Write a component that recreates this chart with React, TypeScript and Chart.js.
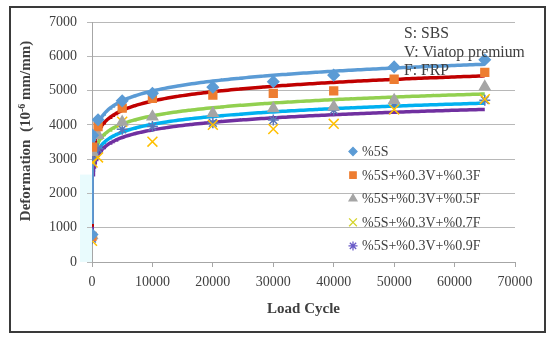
import { useEffect, useRef } from 'react';
import { Chart, registerables } from 'chart.js';
import { drawPoint } from 'chart.js/helpers';

Chart.register(...registerables);

// ---- data ----
const loadCycles = [1, 100, 1000, 5000, 10000, 20000, 30000, 40000, 50000, 65000];
const s5S = [800, 3700, 4150, 4700, 4920, 5100, 5260, 5450, 5690, 5900];
const s03F = [750, 3350, 3950, 4490, 4770, 4870, 4920, 4990, 5330, 5530];
const s05F = [780, 3200, 3700, 4080, 4240, 4335, 4480, 4530, 4720, 5110];
const s07F = [620, 2900, 3050, 4090, 3510, 4000, 3880, 4030, 4450, 4750];
const s09F = [680, 3050, 3300, 3870, 3950, 4060, 4140, 4430, 4630, 4720];
const seriesLabels = [
  '%5S',
  '%5S+%0.3V+%0.3F',
  '%5S+%0.3V+%0.5F',
  '%5S+%0.3V+%0.7F',
  '%5S+%0.3V+%0.9F',
];
const xTickMin = 0;
const xTickMax = 70000;
const xTickStep = 10000;
const yTickMin = 0;
const yTickMax = 7000;
const yTickStep = 1000;
const noteLines = ['S: SBS', 'V: Viatop premium', 'F: FRP'];
const xTitle = 'Load Cycle';
const yTitleMain = 'Deformation  (10';
const yTitleSup = '-6';
const yTitleEnd = ' mm/mm)';

// ---- styles ----
const FONT = "'Liberation Serif', 'Times New Roman', serif";
const TEXT = '#3f3f3f';
const seriesValues = [s5S, s03F, s05F, s07F, s09F];
const markerStyles = ['rectRot', 'rect', 'triangle', 'crossRot', 'star'];
const markerColors = ['#5b9bd5', '#ed7d31', '#a5a5a5', '#ffc000', '#5b77b8'];
const markerRadius = [5.5, 5.5, 6, 7, 5.5];
const legendColors = ['#5b9bd5', '#ed7d31', '#a5a5a5', '#d4d42a', '#6a5cc8'];
const legendRadius = [4, 4.5, 4.5, 5.5, 4.5];
const trendColors = ['#5b9bd5', '#c00000', '#92d050', '#7030a0', '#00b0f0'];

function logFit(xs: number[], ys: number[]) {
  const lx = xs.map((v) => Math.log(v));
  const n = xs.length;
  const mx = lx.reduce((a, b) => a + b, 0) / n;
  const my = ys.reduce((a, b) => a + b, 0) / n;
  let sxy = 0;
  let sxx = 0;
  for (let i = 0; i < n; i++) {
    sxy += (lx[i] - mx) * (ys[i] - my);
    sxx += (lx[i] - mx) * (lx[i] - mx);
  }
  const a = sxy / sxx;
  return { a, b: my - a * mx };
}

function trendSamples(xs: number[]) {
  const lo = Math.min(...xs);
  const hi = Math.max(...xs);
  const set = new Set<number>();
  const n = 80;
  for (let k = 0; k <= n; k++) set.add(lo * Math.pow(hi / lo, k / n));
  for (let v = 500; v < hi; v += 500) set.add(v);
  set.add(hi);
  return Array.from(set).sort((p, q) => p - q);
}

const pageDecor = {
  id: 'pageDecor',
  beforeDraw(chart: any) {
    const { ctx, chartArea, scales } = chart;
    ctx.save();
    ctx.fillStyle = '#ffffff';
    ctx.fillRect(0, 0, chart.width, chart.height);
    // faint shaded strip left of the y axis
    const yTop = scales.y.getPixelForValue(2550);
    ctx.fillStyle = '#e9fbfd';
    ctx.fillRect(chartArea.left - 12, yTop, 12, chartArea.bottom - yTop);
    // outer frame
    ctx.strokeStyle = '#3a3a3a';
    ctx.lineWidth = 2;
    ctx.strokeRect(10, 7, 535, 325);
    ctx.restore();
  },
  afterDraw(chart: any) {
    const { ctx, chartArea } = chart;
    ctx.save();
    // y axis title
    ctx.fillStyle = TEXT;
    ctx.translate(26, (chartArea.top + chartArea.bottom) / 2 - 11);
    ctx.rotate(-Math.PI / 2);
    ctx.textBaseline = 'middle';
    ctx.font = `bold 15px ${FONT}`;
    const w1 = ctx.measureText(yTitleMain).width;
    const w3 = ctx.measureText(yTitleEnd).width;
    ctx.font = `bold 10px ${FONT}`;
    const w2 = ctx.measureText(yTitleSup).width;
    let x = -(w1 + w2 + w3) / 2;
    ctx.textAlign = 'left';
    ctx.font = `bold 15px ${FONT}`;
    ctx.fillText(yTitleMain, x, 0);
    x += w1;
    ctx.font = `bold 10px ${FONT}`;
    ctx.fillText(yTitleSup, x, -4);
    x += w2;
    ctx.font = `bold 15px ${FONT}`;
    ctx.fillText(yTitleEnd, x, 0);
    ctx.restore();

    // notes
    ctx.save();
    ctx.fillStyle = TEXT;
    ctx.font = `15.7px ${FONT}`;
    ctx.textAlign = 'left';
    ctx.textBaseline = 'alphabetic';
    noteLines.forEach((t, i) => ctx.fillText(t, 404, 38 + i * 18.5));
    ctx.restore();

    // legend
    ctx.save();
    ctx.font = `14px ${FONT}`;
    ctx.textAlign = 'left';
    ctx.textBaseline = 'alphabetic';
    seriesLabels.forEach((label, i) => {
      const base = 156 + i * 23.6;
      ctx.fillStyle = legendColors[i];
      ctx.strokeStyle = legendColors[i];
      ctx.lineWidth = 1.3;
      drawPoint(ctx, { pointStyle: markerStyles[i], radius: legendRadius[i], rotation: 0, borderWidth: 1.3 } as any, 353, base - 4.5);
      ctx.fillStyle = TEXT;
      ctx.fillText(label, 362, base);
    });
    ctx.restore();
  },
};

export default function App() {
  const ref = useRef<HTMLCanvasElement>(null);
  useEffect(() => {
    const pointSets = seriesValues.map((vals, i) => ({
      type: 'scatter' as const,
      label: seriesLabels[i],
      data: loadCycles.map((c, k) => ({ x: c, y: vals[k] })),
      pointStyle: markerStyles[i],
      pointRadius: markerRadius[i],
      pointBackgroundColor: markerColors[i],
      pointBorderColor: markerColors[i],
      pointBorderWidth: 1.5,
      showLine: false,
      order: 0,
    }));
    const samples = trendSamples(loadCycles);
    const trendSets = seriesValues.map((vals, i) => {
      const { a, b } = logFit(loadCycles, vals);
      return {
        type: 'scatter' as const,
        label: 'trend ' + seriesLabels[i],
        data: samples.map((c) => ({ x: c, y: a * Math.log(c) + b })),
        showLine: true,
        borderColor: trendColors[i],
        borderWidth: 3.5,
        pointRadius: 0,
        fill: false,
        tension: 0,
        order: 1,
      };
    });
    const plain = (v: any) => String(v);
    const chart = new Chart(ref.current as HTMLCanvasElement, {
      type: 'scatter',
      data: { datasets: [...pointSets, ...trendSets] as any },
      options: {
        animation: false,
        responsive: false,
        layout: { padding: { left: 0, top: 22, right: 35, bottom: 0 } },
        plugins: {
          legend: { display: false },
          tooltip: { enabled: false },
        },
        scales: {
          x: {
            type: 'linear',
            min: xTickMin,
            max: xTickMax,
            ticks: {
              stepSize: xTickStep,
              color: TEXT,
              font: { family: FONT, size: 14 },
              padding: 7,
              maxRotation: 0,
              callback: plain,
            },
            grid: {
              drawOnChartArea: false,
              drawTicks: true,
              tickLength: 5,
              color: '#a6a6a6',
            },
            border: { color: '#a6a6a6', width: 1 },
            title: {
              display: true,
              text: xTitle,
              color: TEXT,
              font: { family: FONT, size: 15, weight: 'bold' },
              padding: { top: 0, bottom: 25 },
            },
            afterFit(scale: any) {
              scale.height = 81;
            },
          },
          y: {
            type: 'linear',
            min: yTickMin,
            max: yTickMax,
            ticks: {
              stepSize: yTickStep,
              color: TEXT,
              font: { family: FONT, size: 14 },
              padding: 10,
              callback: plain,
            },
            grid: {
              color: '#b8b8b8',
              lineWidth: 1,
              tickLength: 5,
            },
            border: { color: '#a6a6a6', width: 1 },
            afterFit(scale: any) {
              scale.width = 92;
            },
          },
        },
      },
      plugins: [pageDecor],
    });
    return () => chart.destroy();
  }, []);
  return (
    <div style={{ position: 'fixed', left: 0, top: 0, width: 550, height: 343, background: '#fff' }}>
      <canvas ref={ref} width={550} height={343} style={{ width: 550, height: 343, display: 'block' }} />
    </div>
  );
}
